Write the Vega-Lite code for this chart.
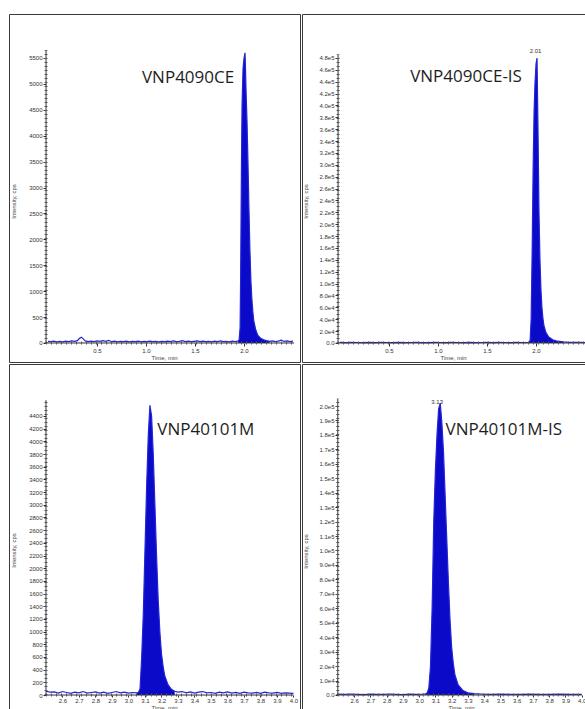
{
  "$schema": "https://vega.github.io/schema/vega-lite/v6.json",
  "padding": {"left": 8, "top": 13, "right": 0, "bottom": 0},
  "background": "white",
  "columns": 2,
  "spacing": 0,
  "config": {
    "view": {"stroke": "#3a3a3a", "strokeWidth": 1},
    "axis": {
      "grid": false, "domain": false, "labelFont": "Liberation Sans", "labelFontSize": 6, "labelColor": "#333333",
      "tickColor": "#333333", "tickSize": 3, "labelPadding": 1, "labelOverlap": false, "labelFlush": false, "labelBound": false, "tickCount": 60,
      "titleFont": "Liberation Sans", "titleFontSize": 6, "titleFontWeight": "normal", "titleColor": "#444444"
    },
    "text": {"font": "Open Sans", "fontSize": 17, "color": "#1e1e1e"}
  },
  "datasets": {
    "tl": [{"t":0,"i":30},{"t":0.03,"i":25},{"t":0.06,"i":35},{"t":0.09,"i":20},{"t":0.12,"i":30},{"t":0.15,"i":22},{"t":0.18,"i":35},{"t":0.21,"i":28},{"t":0.24,"i":40},{"t":0.27,"i":30},{"t":0.3,"i":45},{"t":0.32,"i":85},{"t":0.34,"i":110},{"t":0.36,"i":80},{"t":0.38,"i":40},{"t":0.41,"i":25},{"t":0.44,"i":35},{"t":0.47,"i":28},{"t":0.5,"i":40},{"t":0.53,"i":30},{"t":0.56,"i":45},{"t":0.59,"i":30},{"t":0.62,"i":50},{"t":0.65,"i":25},{"t":0.68,"i":35},{"t":0.71,"i":22},{"t":0.74,"i":30},{"t":0.77,"i":25},{"t":0.8,"i":35},{"t":0.83,"i":20},{"t":0.86,"i":30},{"t":0.89,"i":25},{"t":0.92,"i":35},{"t":0.95,"i":22},{"t":0.98,"i":30},{"t":1.01,"i":25},{"t":1.04,"i":35},{"t":1.07,"i":28},{"t":1.1,"i":32},{"t":1.13,"i":22},{"t":1.16,"i":30},{"t":1.19,"i":25},{"t":1.22,"i":35},{"t":1.25,"i":28},{"t":1.28,"i":40},{"t":1.31,"i":25},{"t":1.34,"i":30},{"t":1.37,"i":45},{"t":1.4,"i":28},{"t":1.43,"i":35},{"t":1.46,"i":25},{"t":1.49,"i":32},{"t":1.52,"i":40},{"t":1.55,"i":28},{"t":1.58,"i":35},{"t":1.61,"i":25},{"t":1.64,"i":30},{"t":1.67,"i":22},{"t":1.7,"i":35},{"t":1.73,"i":28},{"t":1.76,"i":40},{"t":1.79,"i":25},{"t":1.82,"i":30},{"t":1.85,"i":22},{"t":1.88,"i":35},{"t":1.91,"i":28},{"t":1.94,"i":40},{"t":1.95,"i":60},{"t":1.96,"i":300},{"t":1.965,"i":1200},{"t":1.97,"i":2500},{"t":1.975,"i":3700},{"t":1.98,"i":4600},{"t":1.99,"i":5300},{"t":2.0,"i":5500},{"t":2.01,"i":5600},{"t":2.015,"i":5300},{"t":2.02,"i":4900},{"t":2.03,"i":4300},{"t":2.04,"i":3500},{"t":2.05,"i":2600},{"t":2.06,"i":1800},{"t":2.07,"i":1200},{"t":2.08,"i":850},{"t":2.09,"i":600},{"t":2.1,"i":420},{"t":2.12,"i":250},{"t":2.14,"i":150},{"t":2.17,"i":90},{"t":2.2,"i":60},{"t":2.23,"i":45},{"t":2.26,"i":30},{"t":2.29,"i":40},{"t":2.32,"i":25},{"t":2.35,"i":35},{"t":2.38,"i":55},{"t":2.41,"i":30},{"t":2.44,"i":40},{"t":2.47,"i":25},{"t":2.5,"i":35}],
    "tr": [{"t":0,"i":900},{"t":0.06,"i":700},{"t":0.12,"i":1000},{"t":0.18,"i":800},{"t":0.24,"i":600},{"t":0.3,"i":900},{"t":0.36,"i":700},{"t":0.42,"i":1000},{"t":0.48,"i":800},{"t":0.54,"i":600},{"t":0.6,"i":900},{"t":0.66,"i":700},{"t":0.72,"i":800},{"t":0.78,"i":1000},{"t":0.84,"i":700},{"t":0.9,"i":600},{"t":0.96,"i":900},{"t":1.02,"i":800},{"t":1.08,"i":700},{"t":1.14,"i":1000},{"t":1.2,"i":800},{"t":1.26,"i":600},{"t":1.32,"i":900},{"t":1.38,"i":700},{"t":1.44,"i":800},{"t":1.5,"i":1000},{"t":1.56,"i":700},{"t":1.62,"i":900},{"t":1.68,"i":800},{"t":1.74,"i":600},{"t":1.8,"i":900},{"t":1.86,"i":800},{"t":1.92,"i":900},{"t":1.93,"i":1200},{"t":1.94,"i":5000},{"t":1.95,"i":40000},{"t":1.96,"i":150000},{"t":1.97,"i":290000},{"t":1.98,"i":390000},{"t":1.99,"i":440000},{"t":2.0,"i":470000},{"t":2.01,"i":480000},{"t":2.02,"i":360000},{"t":2.03,"i":220000},{"t":2.04,"i":140000},{"t":2.05,"i":90000},{"t":2.06,"i":60000},{"t":2.07,"i":42000},{"t":2.08,"i":30000},{"t":2.1,"i":18000},{"t":2.13,"i":10000},{"t":2.17,"i":5500},{"t":2.22,"i":3000},{"t":2.28,"i":1800},{"t":2.34,"i":1200},{"t":2.4,"i":1000},{"t":2.46,"i":900},{"t":2.5,"i":800}],
    "bl": [{"t":2.5,"i":60},{"t":2.525,"i":45},{"t":2.55,"i":50},{"t":2.575,"i":30},{"t":2.6,"i":55},{"t":2.625,"i":40},{"t":2.65,"i":25},{"t":2.675,"i":45},{"t":2.7,"i":35},{"t":2.725,"i":55},{"t":2.75,"i":30},{"t":2.775,"i":40},{"t":2.8,"i":50},{"t":2.825,"i":30},{"t":2.85,"i":45},{"t":2.875,"i":25},{"t":2.9,"i":40},{"t":2.925,"i":55},{"t":2.95,"i":35},{"t":2.975,"i":45},{"t":3.0,"i":30},{"t":3.025,"i":40},{"t":3.05,"i":35},{"t":3.06,"i":40},{"t":3.07,"i":100},{"t":3.08,"i":600},{"t":3.09,"i":1300},{"t":3.1,"i":2300},{"t":3.11,"i":3300},{"t":3.12,"i":4100},{"t":3.13,"i":4570},{"t":3.14,"i":4400},{"t":3.15,"i":3800},{"t":3.16,"i":3000},{"t":3.17,"i":2200},{"t":3.18,"i":1500},{"t":3.19,"i":1000},{"t":3.2,"i":650},{"t":3.21,"i":450},{"t":3.22,"i":300},{"t":3.24,"i":160},{"t":3.26,"i":90},{"t":3.28,"i":60},{"t":3.3,"i":45},{"t":3.325,"i":55},{"t":3.35,"i":35},{"t":3.375,"i":50},{"t":3.4,"i":30},{"t":3.425,"i":45},{"t":3.45,"i":55},{"t":3.475,"i":35},{"t":3.5,"i":40},{"t":3.525,"i":25},{"t":3.55,"i":45},{"t":3.575,"i":35},{"t":3.6,"i":50},{"t":3.625,"i":30},{"t":3.65,"i":40},{"t":3.675,"i":25},{"t":3.7,"i":45},{"t":3.725,"i":35},{"t":3.75,"i":30},{"t":3.775,"i":40},{"t":3.8,"i":25},{"t":3.825,"i":45},{"t":3.85,"i":35},{"t":3.875,"i":30},{"t":3.9,"i":40},{"t":3.925,"i":25},{"t":3.95,"i":35},{"t":3.975,"i":30},{"t":4.0,"i":25}],
    "br": [{"t":2.5,"i":600},{"t":2.54,"i":400},{"t":2.58,"i":700},{"t":2.62,"i":500},{"t":2.66,"i":300},{"t":2.7,"i":600},{"t":2.74,"i":500},{"t":2.78,"i":400},{"t":2.82,"i":700},{"t":2.86,"i":500},{"t":2.9,"i":300},{"t":2.94,"i":600},{"t":2.98,"i":500},{"t":3.02,"i":600},{"t":3.04,"i":800},{"t":3.05,"i":1500},{"t":3.06,"i":5000},{"t":3.07,"i":20000},{"t":3.08,"i":60000},{"t":3.09,"i":120000},{"t":3.1,"i":155000},{"t":3.11,"i":180000},{"t":3.12,"i":198000},{"t":3.13,"i":202000},{"t":3.14,"i":188000},{"t":3.15,"i":168000},{"t":3.16,"i":138000},{"t":3.17,"i":108000},{"t":3.18,"i":78000},{"t":3.19,"i":52000},{"t":3.2,"i":33000},{"t":3.21,"i":22000},{"t":3.22,"i":14000},{"t":3.24,"i":7000},{"t":3.27,"i":3000},{"t":3.3,"i":1500},{"t":3.34,"i":900},{"t":3.38,"i":700},{"t":3.44,"i":500},{"t":3.5,"i":600},{"t":3.56,"i":400},{"t":3.62,"i":500},{"t":3.68,"i":600},{"t":3.74,"i":400},{"t":3.8,"i":500},{"t":3.86,"i":600},{"t":3.92,"i":400},{"t":4.0,"i":500}]
  },
  "concat": [
    {
      "width": 291, "height": 348,
      "layer": [
        {
          "data": {"name": "tl"},
          "transform": [{"filter": "datum.t >= 1.94 && datum.t <= 2.26"}],
          "mark": {"type": "area", "color": "#0a0ac8"},
          "encoding": {
            "x": {"field": "t", "type": "quantitative", "scale": {"domain": [-0.398, 2.571], "nice": false, "zero": false},
                  "axis": {"values": [0.5, 1.0, 1.5, 2.0], "tickCount": 60, "format": ".1f", "labelOverlap": false, "title": "Time, min", "offset": -19, "titleX": 155, "titleY": 11, "titleBaseline": "top"}},
            "y": {"field": "i", "type": "quantitative", "scale": {"domain": [-367, 6349], "nice": false, "zero": false},
                  "axis": {"values": [0,500,1000,1500,2000,2500,3000,3500,4000,4500,5000,5500], "tickCount": 60, "format": "d", "labelOverlap": false, "title": "Intensity, cps", "offset": -37, "titleX": -30, "titleY": 187}},
            "y2": {"datum": 0}
          }
        },
        {"data": {"name": "tl"}, "mark": {"type": "line", "color": "#2424d8", "strokeWidth": 1.2},
         "encoding": {"x": {"field": "t", "type": "quantitative"}, "y": {"field": "i", "type": "quantitative"}}},
        {"data": {"values": [{}]}, "mark": {"type": "rule", "color": "#333333", "strokeWidth": 1},
         "encoding": {"x": {"datum": -0.02, "type": "quantitative"}, "y": {"datum": 0, "type": "quantitative"}, "y2": {"datum": 5650}}},
        {"data": {"values": [{}]}, "mark": {"type": "rule", "color": "#555555", "strokeWidth": 3, "strokeDash": [1, 3]},
         "encoding": {"x": {"datum": -0.02, "type": "quantitative"}, "y": {"datum": 0, "type": "quantitative"}, "y2": {"datum": 5650}}},
        {"data": {"values": [{}]}, "mark": {"type": "rule", "color": "#333333", "strokeWidth": 1},
         "encoding": {"x": {"datum": -0.02, "type": "quantitative"}, "x2": {"datum": 2.51}, "y": {"datum": 0, "type": "quantitative"}}},
        {"data": {"values": [{}]}, "mark": {"type": "rule", "color": "#555555", "strokeWidth": 3, "strokeDash": [1, 4]},
         "encoding": {"x": {"datum": -0.02, "type": "quantitative"}, "x2": {"datum": 2.51}, "y": {"datum": 0, "type": "quantitative"}}},
        {"data": {"values": [{"label": "VNP4090CE"}]}, "mark": {"type": "text", "align": "center", "baseline": "middle"},
         "encoding": {"text": {"field": "label"}, "x": {"datum": 1.429, "type": "quantitative"}, "y": {"datum": 5115, "type": "quantitative"}}}
      ]
    },
    {
      "width": 285, "height": 348,
      "layer": [
        {
          "data": {"name": "tr"},
          "transform": [{"filter": "datum.t >= 1.93 && datum.t <= 2.3"}],
          "mark": {"type": "area", "color": "#0a0ac8"},
          "encoding": {
            "x": {"field": "t", "type": "quantitative", "scale": {"domain": [-0.388, 2.52], "nice": false, "zero": false},
                  "axis": {"values": [0.5, 1.0, 1.5, 2.0], "tickCount": 60, "format": ".1f", "labelOverlap": false, "title": "Time, min", "offset": -19, "titleX": 151, "titleY": 11, "titleBaseline": "top"}},
            "y": {"field": "i", "type": "quantitative", "scale": {"domain": [-32000, 554100], "nice": false, "zero": false},
                  "axis": {"values": [0,20000,40000,60000,80000,100000,120000,140000,160000,180000,200000,220000,240000,260000,280000,300000,320000,340000,360000,380000,400000,420000,440000,460000,480000], "tickCount": 60,
                           "labelExpr": "datum.value == 0 ? '0.0' : replace(format(datum.value, '.1e'), '+', '')", "labelOverlap": false, "title": "Intensity, cps", "offset": -36, "titleX": -30, "titleY": 187}},
            "y2": {"datum": 0}
          }
        },
        {"data": {"name": "tr"}, "mark": {"type": "line", "color": "#2424d8", "strokeWidth": 1.2},
         "encoding": {"x": {"field": "t", "type": "quantitative"}, "y": {"field": "i", "type": "quantitative"}}},
        {"data": {"values": [{}]}, "mark": {"type": "rule", "color": "#333333", "strokeWidth": 1},
         "encoding": {"x": {"datum": -0.02, "type": "quantitative"}, "y": {"datum": 0, "type": "quantitative"}, "y2": {"datum": 486000}}},
        {"data": {"values": [{}]}, "mark": {"type": "rule", "color": "#555555", "strokeWidth": 3, "strokeDash": [1, 3]},
         "encoding": {"x": {"datum": -0.02, "type": "quantitative"}, "y": {"datum": 0, "type": "quantitative"}, "y2": {"datum": 486000}}},
        {"data": {"values": [{}]}, "mark": {"type": "rule", "color": "#333333", "strokeWidth": 1},
         "encoding": {"x": {"datum": -0.02, "type": "quantitative"}, "x2": {"datum": 2.5}, "y": {"datum": 0, "type": "quantitative"}}},
        {"data": {"values": [{}]}, "mark": {"type": "rule", "color": "#555555", "strokeWidth": 3, "strokeDash": [1, 4]},
         "encoding": {"x": {"datum": -0.02, "type": "quantitative"}, "x2": {"datum": 2.5}, "y": {"datum": 0, "type": "quantitative"}}},
        {"data": {"values": [{"label": "VNP4090CE-IS"}]}, "mark": {"type": "text", "align": "center", "baseline": "middle"},
         "encoding": {"text": {"field": "label"}, "x": {"datum": 1.286, "type": "quantitative"}, "y": {"datum": 448000, "type": "quantitative"}}},
        {"data": {"values": [{"label": "2.01"}]}, "mark": {"type": "text", "align": "center", "baseline": "middle", "font": "Liberation Sans", "fontSize": 6, "color": "#333333"},
         "encoding": {"text": {"field": "label"}, "x": {"datum": 1.995, "type": "quantitative"}, "y": {"datum": 491800, "type": "quantitative"}}}
      ]
    },
    {
      "width": 291, "height": 347,
      "layer": [
        {
          "data": {"name": "bl"},
          "transform": [{"filter": "datum.t >= 3.05 && datum.t <= 3.29"}],
          "mark": {"type": "area", "color": "#0a0ac8"},
          "encoding": {
            "x": {"field": "t", "type": "quantitative", "scale": {"domain": [2.2758, 4.0394], "nice": false, "zero": false},
                  "axis": {"values": [2.6,2.7,2.8,2.9,3.0,3.1,3.2,3.3,3.4,3.5,3.6,3.7,3.8,3.9,4.0], "tickCount": 60, "format": ".1f", "labelOverlap": false, "tickSize": 2, "labelPadding": 0, "title": "Time, min", "offset": -16, "titleX": 155, "titleY": 9, "titleBaseline": "top"}},
            "y": {"field": "i", "type": "quantitative", "scale": {"domain": [-252, 5220], "nice": false, "zero": false},
                  "axis": {"values": [0,200,400,600,800,1000,1200,1400,1600,1800,2000,2200,2400,2600,2800,3000,3200,3400,3600,3800,4000,4200,4400], "tickCount": 60, "format": "d", "labelOverlap": false, "title": "Intensity, cps", "offset": -37, "titleX": -30, "titleY": 186}},
            "y2": {"datum": 0}
          }
        },
        {"data": {"name": "bl"}, "mark": {"type": "line", "color": "#2424d8", "strokeWidth": 1.2},
         "encoding": {"x": {"field": "t", "type": "quantitative"}, "y": {"field": "i", "type": "quantitative"}}},
        {"data": {"values": [{}]}, "mark": {"type": "rule", "color": "#333333", "strokeWidth": 1},
         "encoding": {"x": {"datum": 2.5, "type": "quantitative"}, "y": {"datum": 0, "type": "quantitative"}, "y2": {"datum": 4650}}},
        {"data": {"values": [{}]}, "mark": {"type": "rule", "color": "#555555", "strokeWidth": 3, "strokeDash": [1, 3]},
         "encoding": {"x": {"datum": 2.5, "type": "quantitative"}, "y": {"datum": 0, "type": "quantitative"}, "y2": {"datum": 4650}}},
        {"data": {"values": [{}]}, "mark": {"type": "rule", "color": "#333333", "strokeWidth": 1},
         "encoding": {"x": {"datum": 2.5, "type": "quantitative"}, "x2": {"datum": 4.0}, "y": {"datum": 0, "type": "quantitative"}}},
        {"data": {"values": [{}]}, "mark": {"type": "rule", "color": "#555555", "strokeWidth": 3, "strokeDash": [1, 4]},
         "encoding": {"x": {"datum": 2.5, "type": "quantitative"}, "x2": {"datum": 4.0}, "y": {"datum": 0, "type": "quantitative"}}},
        {"data": {"values": [{"label": "VNP40101M"}]}, "mark": {"type": "text", "align": "center", "baseline": "middle"},
         "encoding": {"text": {"field": "label"}, "x": {"datum": 3.469, "type": "quantitative"}, "y": {"datum": 4179, "type": "quantitative"}}}
      ]
    },
    {
      "width": 285, "height": 347,
      "layer": [
        {
          "data": {"name": "br"},
          "transform": [{"filter": "datum.t >= 3.04 && datum.t <= 3.36"}],
          "mark": {"type": "area", "color": "#0a0ac8"},
          "encoding": {
            "x": {"field": "t", "type": "quantitative", "scale": {"domain": [2.2799, 4.0323], "nice": false, "zero": false},
                  "axis": {"values": [2.6,2.7,2.8,2.9,3.0,3.1,3.2,3.3,3.4,3.5,3.6,3.7,3.8,3.9,4.0], "tickCount": 60, "format": ".1f", "labelOverlap": false, "tickSize": 2, "labelPadding": 0, "title": "Time, min", "offset": -16, "titleX": 159, "titleY": 9, "titleBaseline": "top"}},
            "y": {"field": "i", "type": "quantitative", "scale": {"domain": [-11073, 229066], "nice": false, "zero": false},
                  "axis": {"values": [0,10000,20000,30000,40000,50000,60000,70000,80000,90000,100000,110000,120000,130000,140000,150000,160000,170000,180000,190000,200000], "tickCount": 60,
                           "labelExpr": "datum.value == 0 ? '0.0' : replace(format(datum.value, '.1e'), '+', '')", "labelOverlap": false, "title": "Intensity, cps", "offset": -36, "titleX": -30, "titleY": 187}},
            "y2": {"datum": 0}
          }
        },
        {"data": {"name": "br"}, "mark": {"type": "line", "color": "#2424d8", "strokeWidth": 1.2},
         "encoding": {"x": {"field": "t", "type": "quantitative"}, "y": {"field": "i", "type": "quantitative"}}},
        {"data": {"values": [{}]}, "mark": {"type": "rule", "color": "#333333", "strokeWidth": 1},
         "encoding": {"x": {"datum": 2.5, "type": "quantitative"}, "y": {"datum": 0, "type": "quantitative"}, "y2": {"datum": 205000}}},
        {"data": {"values": [{}]}, "mark": {"type": "rule", "color": "#555555", "strokeWidth": 3, "strokeDash": [1, 3]},
         "encoding": {"x": {"datum": 2.5, "type": "quantitative"}, "y": {"datum": 0, "type": "quantitative"}, "y2": {"datum": 205000}}},
        {"data": {"values": [{}]}, "mark": {"type": "rule", "color": "#333333", "strokeWidth": 1},
         "encoding": {"x": {"datum": 2.5, "type": "quantitative"}, "x2": {"datum": 4.0}, "y": {"datum": 0, "type": "quantitative"}}},
        {"data": {"values": [{}]}, "mark": {"type": "rule", "color": "#555555", "strokeWidth": 3, "strokeDash": [1, 4]},
         "encoding": {"x": {"datum": 2.5, "type": "quantitative"}, "x2": {"datum": 4.0}, "y": {"datum": 0, "type": "quantitative"}}},
        {"data": {"values": [{"label": "VNP40101M-IS"}]}, "mark": {"type": "text", "align": "center", "baseline": "middle"},
         "encoding": {"text": {"field": "label"}, "x": {"datum": 3.521, "type": "quantitative"}, "y": {"datum": 183400, "type": "quantitative"}}},
        {"data": {"values": [{"label": "3.13"}]}, "mark": {"type": "text", "align": "center", "baseline": "middle", "font": "Liberation Sans", "fontSize": 6, "color": "#333333"},
         "encoding": {"text": {"field": "label"}, "x": {"datum": 3.111, "type": "quantitative"}, "y": {"datum": 202800, "type": "quantitative"}}}
      ]
    }
  ]
}
